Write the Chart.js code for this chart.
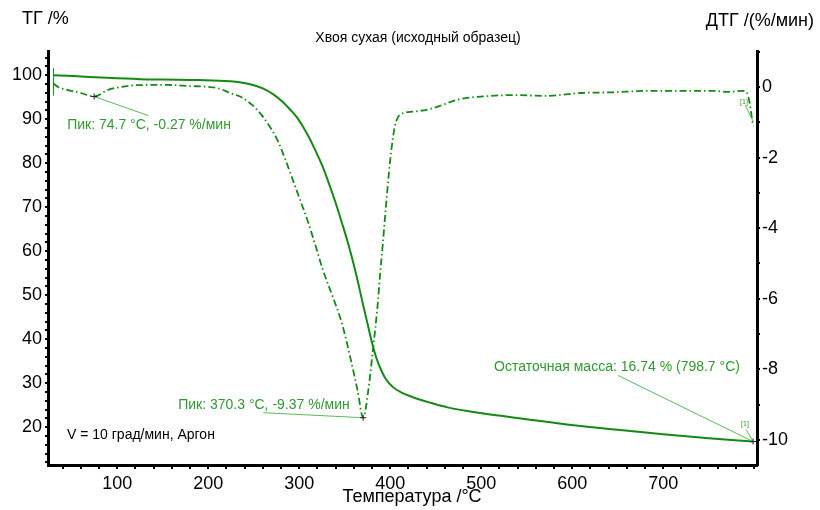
<!DOCTYPE html>
<html>
<head>
<meta charset="utf-8">
<script src="https://cdn.jsdelivr.net/npm/chart.js@4/dist/chart.umd.min.js"></script>
<style>
  body { margin: 0; background: #fff; }
</style>
</head>
<body>
<canvas id="tgChart" width="820" height="510"></canvas>
<script>
// TG curve (left axis, %)
const tgTemps = [30, 52, 89, 125, 150, 190, 224, 245, 260, 272, 282, 290, 298, 305, 312, 318, 325, 333, 340, 347, 353, 358, 364, 370, 375, 380, 385, 390, 395, 403, 412, 425, 445, 463, 499, 550, 599, 650, 700, 750, 798.7];
const tgValues = [100, 99.8, 99.4, 99.1, 99.0, 98.9, 98.6, 98.0, 97.0, 95.6, 93.9, 92.2, 90.3, 88.0, 85.4, 82.8, 79.6, 75.2, 71.0, 66.4, 62.3, 58.5, 53.5, 48.0, 43.6, 39.2, 35.6, 33.0, 31.0, 29.1, 27.9, 26.8, 25.5, 24.5, 23.2, 21.8, 20.5, 19.4, 18.4, 17.5, 16.74];

// DTG curve (right axis, %/min)
const dtgTemps = [30, 35, 45, 60, 74.7, 90, 104, 120, 155, 177, 210, 224, 238, 254, 265, 276, 285, 293, 301, 309, 318, 326, 337, 347, 356, 364, 370.3, 376, 381, 386, 389, 392, 395, 400, 405, 411, 425, 444, 477, 496, 535, 572, 609, 645, 682, 719, 755, 770, 788, 793, 798.7];
const dtgValues = [0.1, 0.0, -0.08, -0.17, -0.27, -0.08, 0.0, 0.05, 0.06, 0.03, -0.03, -0.17, -0.31, -0.65, -1.02, -1.5, -2.07, -2.63, -3.2, -3.77, -4.5, -5.18, -5.95, -6.7, -7.65, -8.58, -9.37, -8.58, -7.45, -6.23, -5.27, -4.4, -3.48, -2.07, -1.13, -0.78, -0.7, -0.62, -0.34, -0.28, -0.23, -0.25, -0.17, -0.15, -0.11, -0.11, -0.11, -0.14, -0.11, -0.23, -1.1];

const xTickLabels = [100, 200, 300, 400, 500, 600, 700];
const tgTickLabels = [20, 30, 40, 50, 60, 70, 80, 90, 100];
const dtgTickLabels = [0, -2, -4, -6, -8, -10];

const peak1 = { t: 74.7, v: -0.27, text: "Пик: 74.7 °C, -0.27 %/мин" };
const peak2 = { t: 370.3, v: -9.37, text: "Пик: 370.3 °C, -9.37 %/мин" };
const residue = { t: 798.7, v: 16.74, text: "Остаточная масса: 16.74 % (798.7 °C)" };

const FONT = '"Liberation Sans", Arial, sans-serif';
const CURVE = "#138a13";
const LABEL = "#2f9a2f";
const LEADER = "#5cb85c";

function cross(ctx, x, y) {
  ctx.strokeStyle = "#222";
  ctx.lineWidth = 1;
  ctx.beginPath();
  ctx.moveTo(x - 3, y); ctx.lineTo(x + 3, y);
  ctx.moveTo(x, y - 3); ctx.lineTo(x, y + 3);
  ctx.stroke();
}

function leader(ctx, x1, y1, x2, y2, color) {
  ctx.strokeStyle = color || LEADER;
  ctx.lineWidth = 1;
  ctx.beginPath();
  ctx.moveTo(x1, y1);
  ctx.lineTo(x2, y2);
  ctx.stroke();
}

const textPlugin = {
  id: "textPlugin",
  afterDraw(chart) {
    const { ctx, chartArea, scales } = chart;
    const sx = scales.x, sl = scales.y, sr = scales.y1;
    ctx.save();
    ctx.textBaseline = "middle";

    // headers
    ctx.fillStyle = "#000";
    ctx.font = "18px " + FONT;
    ctx.textAlign = "left";
    ctx.fillText("ТГ /%", 22, 19);
    ctx.textAlign = "right";
    ctx.fillText("ДТГ /(%/мин)", 814, 21);
    ctx.textAlign = "center";
    ctx.fillText("Температура /°C", 412, 497);
    ctx.font = "14px " + FONT;
    ctx.fillText("Хвоя сухая (исходный образец)", 418, 38);
    ctx.textAlign = "left";
    ctx.fillText("V = 10 град/мин, Аргон", chartArea.left + 19, 435);

    // start marks of both curves
    let sx0 = sx.getPixelForValue(tgTemps[0]);
    let sy0 = sl.getPixelForValue(tgValues[0]);
    leader(ctx, sx0, sy0 - 7, sx0, sy0 + 5, CURVE);
    sy0 = sr.getPixelForValue(dtgValues[0]);
    leader(ctx, sx0, sy0 - 4, sx0, sy0 + 12, CURVE);

    // peak 1
    let px = sx.getPixelForValue(peak1.t), py = sr.getPixelForValue(peak1.v);
    leader(ctx, px, py, px + 54, py + 19);
    cross(ctx, px, py);
    ctx.fillStyle = LABEL;
    ctx.font = "14px " + FONT;
    ctx.fillText(peak1.text, px - 27, py + 29);

    // peak 2
    px = sx.getPixelForValue(peak2.t); py = sr.getPixelForValue(peak2.v);
    leader(ctx, px, py, px - 100, py - 5);
    cross(ctx, px, py);
    ctx.fillStyle = LABEL;
    ctx.fillText(peak2.text, px - 185, py - 13);

    // residual mass
    px = sx.getPixelForValue(residue.t); py = sl.getPixelForValue(residue.v);
    leader(ctx, px, py, px - 135, py - 66);
    leader(ctx, px, py, px - 7, py - 12);
    cross(ctx, px, py);
    ctx.fillStyle = LABEL;
    ctx.fillText(residue.text, px - 259, py - 74);
    ctx.font = "7px " + FONT;
    ctx.fillText("[1]", px - 12, py - 17);

    // DTG end marker
    const ey = sr.getPixelForValue(dtgValues[dtgValues.length - 2]);
    leader(ctx, px - 8, ey + 10, px, ey + 26);
    ctx.fillText("[1]", px - 13, ey + 7);

    ctx.restore();
  }
};

new Chart(document.getElementById("tgChart"), {
  type: "line",
  data: {
    datasets: [
      {
        label: "ТГ",
        data: tgTemps.map((t, i) => ({ x: t, y: tgValues[i] })),
        yAxisID: "y",
        borderColor: CURVE,
        borderWidth: 2,
        pointRadius: 0,
        cubicInterpolationMode: "monotone"
      },
      {
        label: "ДТГ",
        data: dtgTemps.map((t, i) => ({ x: t, y: dtgValues[i] })),
        yAxisID: "y1",
        borderColor: CURVE,
        borderWidth: 1.8,
        borderDash: [7, 3, 1.5, 3],
        pointRadius: 0,
        cubicInterpolationMode: "monotone"
      }
    ]
  },
  options: {
    responsive: false,
    animation: false,
    layout: { padding: { top: 51, left: 0, right: 0, bottom: 0 } },
    plugins: {
      legend: { display: false },
      tooltip: { enabled: false }
    },
    scales: {
      x: {
        type: "linear",
        min: 24,
        max: 803,
        afterFit: (s) => { s.height = 45; },
        border: { color: "#000", width: 3 },
        grid: { drawOnChartArea: false, tickLength: 4, color: "#000", lineWidth: 2 },
        ticks: {
          stepSize: 20,
          includeBounds: false,
          autoSkip: false,
          maxTicksLimit: 100,
          maxRotation: 0,
          padding: 4,
          color: "#000",
          font: { size: 18, family: FONT },
          callback: (v) => xTickLabels.includes(v) ? String(v) : ""
        }
      },
      y: {
        position: "left",
        min: 11.4,
        max: 105.5,
        afterFit: (s) => { s.width = 48; },
        border: { color: "#000", width: 3 },
        grid: { drawOnChartArea: false, tickLength: 3, color: "#000", lineWidth: 2 },
        ticks: {
          stepSize: 2,
          includeBounds: false,
          autoSkip: false,
          maxTicksLimit: 100,
          padding: 3,
          color: "#000",
          font: { size: 18, family: FONT },
          callback: (v) => tgTickLabels.includes(v) ? String(v) : ""
        }
      },
      y1: {
        position: "right",
        min: -10.71,
        max: 1.02,
        afterFit: (s) => { s.width = 63; },
        border: { color: "#000", width: 3 },
        grid: { drawOnChartArea: false, tickLength: 3, color: "#000", lineWidth: 2 },
        ticks: {
          stepSize: 1,
          includeBounds: false,
          autoSkip: false,
          maxTicksLimit: 100,
          padding: 2,
          color: "#000",
          font: { size: 18, family: FONT },
          callback: (v) => dtgTickLabels.includes(v) ? String(v) : ""
        }
      }
    }
  },
  plugins: [textPlugin]
});
</script>
</body>
</html>
